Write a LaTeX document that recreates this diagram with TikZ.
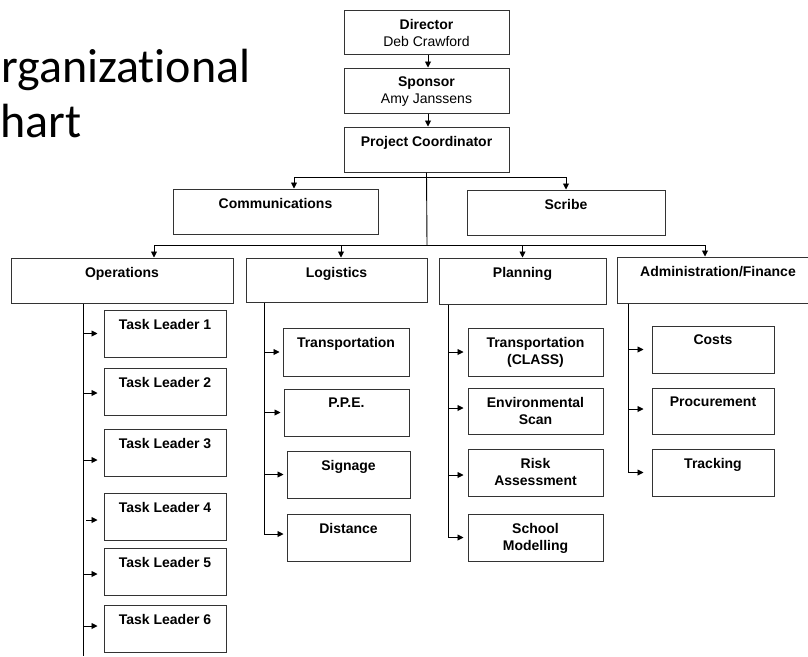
\documentclass[tikz,border=0pt]{standalone}
\usepackage{fontspec}
\setmainfont{Liberation Sans}
\newfontfamily\titlefont[Ligatures=NoCommon]{Carlito}
\usetikzlibrary{arrows.meta}

\begin{document}
\begin{tikzpicture}[x=1pt, y=-1pt,
	box/.style={draw=black!80, line width=1pt, minimum height=45pt, inner sep=0pt},
	sub/.style={box, minimum height=47pt},
	lbl/.style={anchor=north, align=center, inner sep=0pt, yshift=-9.5pt, font=\fontsize{14}{17}\selectfont\bfseries},
	arr/.style={-{Triangle[length=6pt,width=6pt]}, line width=0.9pt},
	ln/.style={line width=0.9pt}]
			%%%%% START %%%%%
			\useasboundingbox (0,0) rectangle (808,656);
			
			\node[anchor=base west, inner sep=0pt, font=\titlefont\fontsize{48}{55}\selectfont] (title1) at (1,82) {rganizational};
			\node[anchor=base west, inner sep=0pt, font=\titlefont\fontsize{48}{55}\selectfont] (title2) at (0,137) {hart};
			
			\node[box, minimum width=165pt, minimum height=44pt, label={[lbl]north:{Director\\\mdseries Deb Crawford}}] (dir) at (426.5,32) {};
			\node[box, minimum width=165pt, label={[lbl]north:{Sponsor\\\mdseries Amy Janssens}}] (spo) at (426.5,90.5) {};
			\node[box, minimum width=165pt, label={[lbl]north:Project Coordinator}] (pc) at (426.5,149.5) {};
			
			\node[box, minimum width=205pt, label={[lbl]north:Communications}] (comm) at (275.5,211.5) {};
			\node[box, minimum width=198pt, label={[lbl]north:Scribe}] (scribe) at (566,212.5) {};
			
			\node[box, minimum width=222pt, label={[lbl]north:Operations}] (ops) at (122,280.5) {};
			\node[box, minimum width=181pt, minimum height=44pt, label={[lbl]north:Logistics}] (log) at (336.5,280) {};
			\node[box, minimum width=167pt, minimum height=46pt, label={[lbl]north:Planning}] (plan) at (522.5,281) {};
			\node[box, minimum width=202pt, minimum height=46pt, label={[lbl]north:Administration/Finance}] (adm) at (718,280) {};
			
			% operations
			\node[sub, minimum width=122pt, label={[lbl]north:Task Leader 1}] (tl1) at (165,333.5) {};
			\node[sub, minimum width=122pt, label={[lbl]north:Task Leader 2}] (tl2) at (165,391.5) {};
			\node[sub, minimum width=122pt, label={[lbl]north:Task Leader 3}] (tl3) at (165,452.5) {};
			\node[sub, minimum width=122pt, label={[lbl]north:Task Leader 4}] (tl4) at (165,516.5) {};
			\node[sub, minimum width=122pt, label={[lbl]north:Task Leader 5}] (tl5) at (165,571.5) {};
			\node[sub, minimum width=122pt, label={[lbl]north:Task Leader 6}] (tl6) at (165,628.5) {};
			
			% logistics
			\node[sub, minimum width=126pt, minimum height=48pt, label={[lbl]north:Transportation}] (trans) at (346,352) {};
			\node[sub, minimum width=125pt, label={[lbl]north:P.P.E.}] (ppe) at (346.5,412.5) {};
			\node[sub, minimum width=123pt, label={[lbl]north:Signage}] (sign) at (348.5,474.5) {};
			\node[sub, minimum width=123pt, label={[lbl]north:Distance}] (dist) at (348.5,537.5) {};
			
			% planning
			\node[sub, minimum width=135pt, minimum height=48pt, label={[lbl]north:{Transportation\\(CLASS)}}] (tclass) at (535.5,352) {};
			\node[sub, minimum width=135pt, minimum height=46pt, label={[lbl]north:{Environmental\\Scan}}] (env) at (535.5,411) {};
			\node[sub, minimum width=135pt, label={[lbl]north:{Risk\\Assessment}}] (risk) at (535.5,472.5) {};
			\node[sub, minimum width=135pt, label={[lbl]north:{School\\Modelling}}] (school) at (535.5,537.5) {};
			
			% admin / finance
			\node[sub, minimum width=122pt, label={[lbl]north:Costs}] (costs) at (713,349.5) {};
			\node[sub, minimum width=122pt, minimum height=46pt, label={[lbl]north:Procurement}] (proc) at (713,411) {};
			\node[sub, minimum width=122pt, label={[lbl]north:Tracking}] (track) at (713,472.5) {};
			
			%%%%% CONNECTORS %%%%%
			\coordinate (hub1) at (427,177);
			\coordinate (hub2) at (427,245);
			\coordinate (opsx) at (83,656);
			\coordinate (logx) at (264,0);
			\coordinate (planx) at (448,0);
			\coordinate (admx) at (628,0);
			
			\draw[arr] ([xshift=1.5pt]dir.south) -- ([xshift=1.5pt]spo.north);
			\draw[arr] ([xshift=1.5pt]spo.south) -- ([xshift=1.5pt]pc.north);
			\draw[ln] (pc.south) -- (hub2);
			\draw[arr] (hub1) -| ([xshift=18.5pt]comm.north);
			\draw[arr] (hub1) -| (scribe.north);
			\draw[arr] (hub2) -| ([xshift=32pt]ops.north);
			\draw[arr] (hub2) -| ([xshift=4.5pt]log.north);
			\draw[arr] (hub2) -| (plan.north);
			\draw[arr] (hub2) -| ([xshift=-13pt]adm.north);
			
			\draw[ln] (ops.south -| opsx) -- (opsx);
			\draw[arr, shorten >=6pt] (tl1.west -| opsx) -- (tl1.west);
			\draw[arr, shorten >=6pt] ([yshift=-1.5pt]tl2.west -| opsx) -- ([yshift=-1.5pt]tl2.west);
			\draw[arr, shorten >=6pt] ([yshift=-7.5pt]tl3.west -| opsx) -- ([yshift=-7.5pt]tl3.west);
			\draw[arr, shorten >=6pt] ([xshift=3pt,yshift=-3.5pt]tl4.west -| opsx) -- ([yshift=-3.5pt]tl4.west);
			\draw[arr, shorten >=6pt] ([yshift=-2.5pt]tl5.west -| opsx) -- ([yshift=-2.5pt]tl5.west);
			\draw[arr, shorten >=6pt] ([yshift=2.5pt]tl6.west -| opsx) -- ([yshift=2.5pt]tl6.west);
			
			\draw[arr, shorten >=3pt] (trans.west -| logx) -- (trans.west);
			\draw[arr, shorten >=3pt] (ppe.west -| logx) -- (ppe.west);
			\draw[arr, shorten >=3pt] (sign.west -| logx) -- (sign.west);
			\draw[arr, shorten >=3pt] (log.south -| logx) |- ([yshift=3.5pt]dist.west);
			
			\draw[arr, shorten >=4pt] (tclass.west -| planx) -- (tclass.west);
			\draw[arr, shorten >=4pt] ([yshift=3pt]env.west -| planx) -- ([yshift=3pt]env.west);
			\draw[arr, shorten >=4pt] ([yshift=-2.5pt]risk.west -| planx) -- ([yshift=-2.5pt]risk.west);
			\draw[arr, shorten >=4pt] (plan.south -| planx) |- (school.west);
			
			\draw[arr, shorten >=8pt] (costs.west -| admx) -- (costs.west);
			\draw[arr, shorten >=8pt] ([yshift=2pt]proc.west -| admx) -- ([yshift=2pt]proc.west);
			\draw[arr, shorten >=8pt] (adm.south -| admx) |- (track.west);
			
			%%%%% END %%%%%
\end{tikzpicture}
\end{document}
